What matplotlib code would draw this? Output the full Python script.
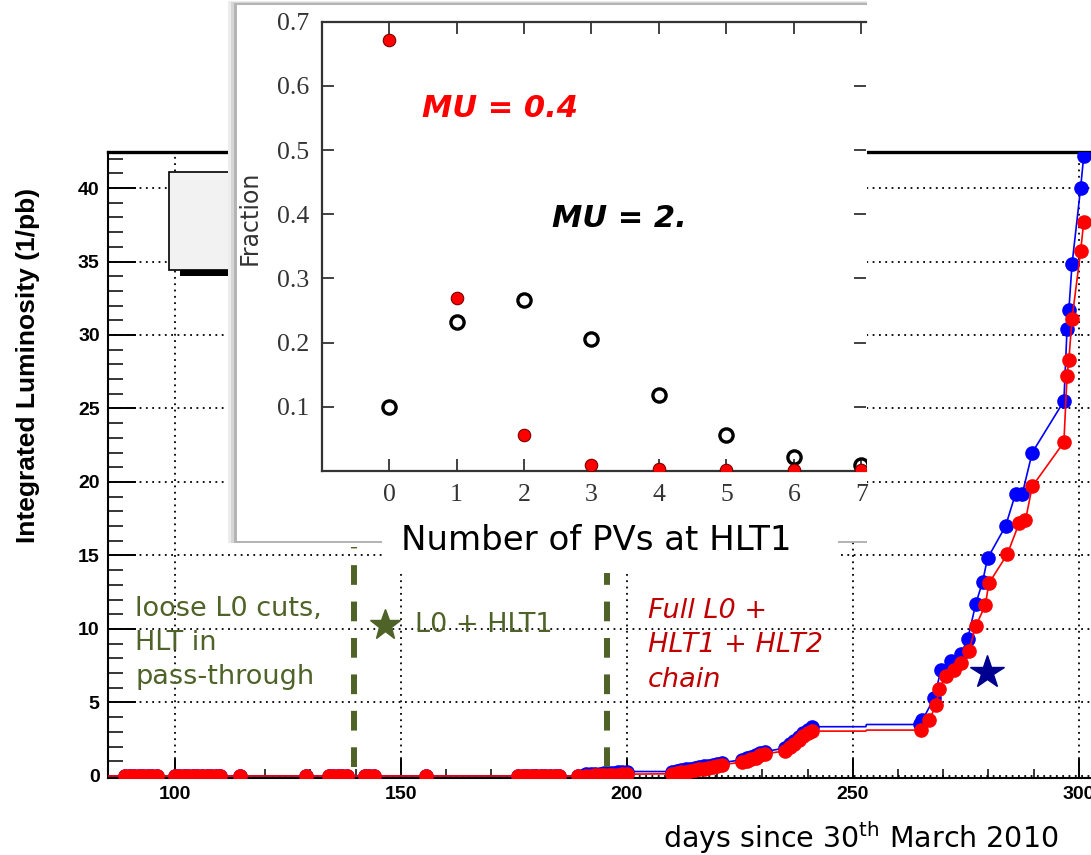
import matplotlib
matplotlib.use('Agg')
import matplotlib.pyplot as plt
from matplotlib.patches import Rectangle
from matplotlib.ticker import MultipleLocator

# ---- main plot: integrated luminosity vs day ----
days_early = [80, 89, 90, 91, 92, 93, 94, 95, 96,
              100, 101, 102, 103, 104, 105, 106, 107, 108, 109, 110,
              114.5, 129, 134, 135, 136, 137, 138, 142, 143, 144, 155.5,
              176, 177, 178, 179, 180, 181, 182, 183, 184, 185, 189.3,
              191, 192, 193, 194, 195, 196, 197, 198, 199, 200,
              210, 211, 212, 213, 214, 215, 216, 217, 218, 219, 220, 221,
              225.5, 226.5, 227.5, 228.5, 229.5, 230.5,
              235, 236, 237, 238, 239, 240, 241, 252.9, 253]
red_early = [0, 0, 0, 0, 0, 0, 0, 0, 0,
             0, 0, 0, 0, 0, 0, 0, 0, 0, 0, 0,
             0, 0, 0, 0, 0, 0, 0, 0, 0, 0, 0,
             0, 0, 0, 0, 0, 0, 0, 0, 0, 0, 0,
             0.02, 0.03, 0.04, 0.05, 0.06, 0.07, 0.08, 0.09, 0.10, 0.12,
             0.15, 0.2, 0.25, 0.3, 0.35, 0.4, 0.45, 0.5, 0.55, 0.6, 0.68, 0.75,
             0.95, 1.05, 1.15, 1.25, 1.4, 1.5,
             1.7, 1.95, 2.2, 2.45, 2.7, 2.9, 3.05, 3.05, 3.12]
blue_early = [0, 0, 0, 0, 0, 0, 0, 0, 0,
              0, 0, 0, 0, 0, 0, 0, 0, 0, 0, 0,
              0, 0, 0, 0, 0, 0, 0, 0, 0, 0, 0,
              0, 0, 0, 0, 0, 0, 0, 0, 0, 0, 0,
              0.10, 0.12, 0.14, 0.16, 0.18, 0.2, 0.22, 0.24, 0.27, 0.3,
              0.3, 0.35, 0.4, 0.45, 0.5, 0.55, 0.6, 0.65, 0.7, 0.75, 0.82, 0.9,
              1.1, 1.2, 1.3, 1.4, 1.55, 1.65,
              1.9, 2.15, 2.4, 2.65, 2.9, 3.1, 3.35, 3.35, 3.5]

red_late_days = [265.1, 266.9, 268.4, 269.1, 270.6, 272.4, 273.9, 275.7, 277.2, 279.3,
                 280.1, 284.2, 286.8, 288.2, 289.7, 296.7, 297.4, 297.8, 298.5, 300.4, 301.1]
red_late = [3.12, 3.8, 4.8, 5.9, 6.8, 7.2, 7.7, 8.5, 10.2, 11.6,
            13.1, 15.1, 17.2, 17.4, 19.7, 22.7, 27.2, 28.3, 31.1, 35.7, 37.7]
blue_late_days = [264.8, 265.4, 268.0, 269.5, 271.7, 273.9, 275.4, 277.2, 278.7, 279.8,
                  283.8, 286.0, 287.5, 289.7, 296.7, 297.4, 297.8, 298.5, 300.4, 301.1]
blue_late = [3.5, 3.8, 5.3, 7.2, 7.8, 8.3, 9.3, 11.7, 13.2, 14.8,
             17.0, 19.2, 19.2, 22.0, 25.5, 30.4, 31.7, 34.8, 40.0, 42.2]

no_marker_days = [80, 252.9, 253]   # line only, no marker drawn
trigger_changes = [139.6, 195.6]

# ---- inset: number of primary vertices ----
pv_n = [0, 1, 2, 3, 4, 5, 6, 7]
frac_mu04 = [0.671, 0.269, 0.056, 0.009, 0.003, 0.002, 0.002, 0.001]
frac_mu2 = [0.100, 0.232, 0.266, 0.205, 0.118, 0.056, 0.022, 0.009]

W, H = 1091, 855
fig = plt.figure(figsize=(W / 100, H / 100), dpi=100)

def box(x0, y0, x1, y1):
    # pixel box (top-left origin) -> figure fraction rect
    return [x0 / W, 1 - y1 / H, (x1 - x0) / W, (y1 - y0) / H]

ax = fig.add_axes(box(108, 152, 1091, 778), zorder=0)
ax.set_xlim(85.2, 302.7)
ax.set_ylim(-0.14, 42.45)

red_days = days_early + red_late_days
red_vals = red_early + red_late
blue_days = days_early + blue_late_days
blue_vals = blue_early + blue_late
red_marks = [i for i, d in enumerate(red_days) if d not in no_marker_days]
blue_marks = [i for i, d in enumerate(blue_days) if d not in no_marker_days]

ax.plot(blue_days, blue_vals, color='#0000ff', lw=1.2, marker='o', ms=9.5,
        markevery=blue_marks, zorder=3)
ax.plot(red_days, red_vals, color='#ff0000', lw=1.2, marker='o', ms=9.5,
        markevery=red_marks, zorder=4)

ax.xaxis.set_major_locator(MultipleLocator(50))
ax.xaxis.set_minor_locator(MultipleLocator(10))
ax.yaxis.set_major_locator(MultipleLocator(5))
ax.yaxis.set_minor_locator(MultipleLocator(1))
ax.tick_params(axis='x', which='major', direction='in', length=13.5, width=1.4, pad=6)
ax.tick_params(axis='x', which='minor', direction='in', length=6.8, width=1.1)
ax.tick_params(axis='y', which='major', direction='in', length=20, width=1.4, pad=6)
ax.tick_params(axis='y', which='minor', direction='in', length=10.8, width=1.1)
for lab in ax.get_xticklabels() + ax.get_yticklabels():
    lab.set_fontfamily('Liberation Sans')
    lab.set_fontweight('bold')
    lab.set_fontsize(14)
ax.grid(True, which='major', color='black', linestyle=(0, (1, 2.5)), lw=1.3)
ax.spines['right'].set_visible(False)
ax.spines['top'].set_linewidth(2.4)
ax.spines['left'].set_linewidth(1.5)
ax.spines['bottom'].set_linewidth(1.5)

# remnant of the legend box hidden under the inset
ax.add_patch(Rectangle((101.1, 34.0), 60, 0.45, facecolor='black', edgecolor='none', zorder=5))
ax.add_patch(Rectangle((98.8, 34.4), 60, 6.7, facecolor='#f2f2f2', edgecolor='black', lw=1.2, zorder=5))

green = '#4f6228'
for xc in trigger_changes:
    ax.plot([xc, xc], [0.6, 15.6], color=green, lw=4.3, dashes=(3.3, 2.8), zorder=6)
ax.text(91.2, 9.05, 'loose L0 cuts,\nHLT in\npass-through', color=green, fontsize=19.5,
        va='center', ha='left', linespacing=1.42, zorder=6)
ax.plot([146.4], [10.3], marker='*', ms=23, color=green, zorder=6)
ax.text(153.1, 10.3, 'L0 + HLT1', color=green, fontsize=19.5, va='center', ha='left', zorder=6)
ax.text(204.7, 8.9, 'Full L0 +\nHLT1 + HLT2\nchain', color='#c00000', fontsize=19.5,
        style='italic', va='center', ha='left', linespacing=1.42, zorder=6)
ax.plot([279.6], [7.1], marker='*', ms=25, color='#000090', zorder=6)

fig.text(28 / W, 1 - 365 / H, 'Integrated Luminosity (1/pb)', rotation=90, fontsize=19,
         fontweight='bold', family='Liberation Sans', ha='center', va='center')
fig.text(663 / W, 1 - 838 / H, r'days since 30$^{\rm th}$ March 2010', fontsize=20.5,
         ha='left', va='center')

# inset panel with soft shadow
for (x0, y0, c) in [(228, 1, '#ececec'), (231, 2, '#d6d6d6'), (234, 3, '#b4b4b4')]:
    sb = box(x0, y0, 867, 543)
    fig.add_artist(Rectangle(sb[:2], sb[2], sb[3], transform=fig.transFigure,
                             facecolor=c, edgecolor='none', zorder=2))
pb = box(237, 5, 867, 541)
fig.add_artist(Rectangle(pb[:2], pb[2], pb[3], transform=fig.transFigure,
                         facecolor='white', edgecolor='none', zorder=2))

ins = fig.add_axes(box(321.7, 21.6, 866, 471), zorder=3)
ins.patch.set_alpha(0)
ins.set_xlim(-1, 7.07)
ins.set_ylim(0, 0.7)
ins.plot(pv_n, frac_mu2, 'o', ms=9.5, mfc='none', mec='black', mew=2.4, zorder=3)
ins.plot(pv_n, frac_mu04, 'o', ms=9, mfc='#ff0000', mec='#7a0000', mew=0.8, zorder=4)
ins.set_xticks(pv_n)
ins.set_yticks([0.1, 0.2, 0.3, 0.4, 0.5, 0.6, 0.7])
ins.set_yticklabels(['0.1', '0.2', '0.3', '0.4', '0.5', '0.6', '0.7'])
ins.tick_params(direction='in', length=8.6, width=1.3, top=True, right=True,
                colors='#333333', labelsize=18.5, pad=9)
for lab in ins.get_xticklabels() + ins.get_yticklabels():
    lab.set_fontfamily('Liberation Serif')
for s in ['left', 'bottom', 'top']:
    ins.spines[s].set_color('#333333')
    ins.spines[s].set_linewidth(1.6)
ins.spines['right'].set_visible(False)
ins.text(0.49, 0.564, 'MU = 0.4', color='#ff0000', fontsize=22, fontweight='bold',
         style='italic', va='center', ha='left')
ins.text(2.42, 0.394, 'MU = 2.', color='black', fontsize=22, fontweight='bold',
         style='italic', va='center', ha='left')
fig.text(250 / W, 1 - 217.5 / H, 'Fraction', rotation=90, fontsize=17, color='#333333',
         ha='center', va='center', zorder=4)

# overlay label box on the inset
lb = box(382, 505, 838, 573)
fig.add_artist(Rectangle(lb[:2], lb[2], lb[3], transform=fig.transFigure,
                         facecolor='white', edgecolor='none', zorder=5))
fig.text(596 / W, 1 - 540 / H, 'Number of PVs at HLT1', fontsize=24.5, ha='center',
         va='center', zorder=6)

fig.savefig('out.png', dpi=100)
